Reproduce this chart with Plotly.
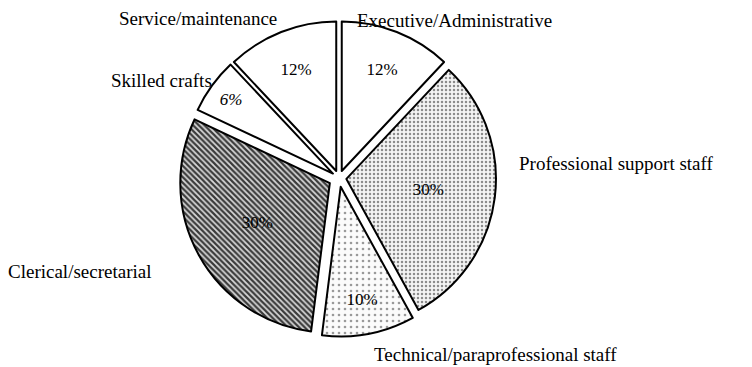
import plotly.graph_objects as go

# staff categories, clockwise from 12 o'clock
categories = [
    "Executive/Administrative",
    "Professional support staff",
    "Technical/paraprofessional staff",
    "Clerical/secretarial",
    "Skilled crafts",
    "Service/maintenance",
]
shares = [12, 30, 10, 30, 6, 12]

# fill styles per slice
fill_shapes = ["", ".", ".", "\\", "", ""]
fill_sizes = [8, 4, 6, 4, 8, 8]
fill_solidity = [0.2, 0.3, 0.15, 0.55, 0.2, 0.2]
fill_bg = ["white", "#f4f4f4", "#fbfbfb", "#d9d9d9", "white", "white"]
fill_fg = ["white", "#8c8c8c", "#9a9a9a", "#3a3a3a", "white", "white"]
pct_fmt = ["%{value}%", "%{value}%", "%{value}%", "%{value}%",
           "<i>%{value}%</i>", "%{value}%"]

# where the category names sit (page pixels)
label_px = {
    "Service/maintenance": (198, 18),
    "Executive/Administrative": (455, 20),
    "Skilled crafts": (161, 80),
    "Professional support staff": (616, 163),
    "Clerical/secretarial": (79, 271),
    "Technical/paraprofessional staff": (496, 354),
}

W, H = 752, 367
FONT = "Liberation Serif, Times New Roman, serif"
CX, CY, R = 339, 178, 160

fig = go.Figure(go.Pie(
    labels=categories,
    values=shares,
    sort=False,
    direction="clockwise",
    rotation=0,
    pull=[0.05, 0.05, 0.06, 0.07, 0.05, 0.05],
    texttemplate=pct_fmt,
    textposition="inside",
    insidetextorientation="horizontal",
    textfont=dict(family=FONT, size=17, color="black"),
    marker=dict(
        colors=fill_bg,
        line=dict(color="black", width=2),
        pattern=dict(
            shape=fill_shapes,
            size=fill_sizes,
            solidity=fill_solidity,
            fgcolor=fill_fg,
            bgcolor=fill_bg,
            fillmode="replace",
        ),
    ),
    domain=dict(x=[(CX - R) / W, (CX + R) / W],
                y=[(H - CY - R) / H, (H - CY + R) / H]),
    hoverinfo="label+percent",
    showlegend=False,
))

for name, (px, py) in label_px.items():
    fig.add_annotation(
        x=px / W, y=1 - py / H, xref="paper", yref="paper",
        text=name, showarrow=False, xanchor="center", yanchor="middle",
        font=dict(family=FONT, size=19, color="black"),
    )

fig.update_layout(
    width=W, height=H,
    margin=dict(l=0, r=0, t=0, b=0),
    paper_bgcolor="white",
    plot_bgcolor="white",
)

fig.write_html("out.html", config={"displayModeBar": False},
               post_script="document.body.style.margin='0';")
